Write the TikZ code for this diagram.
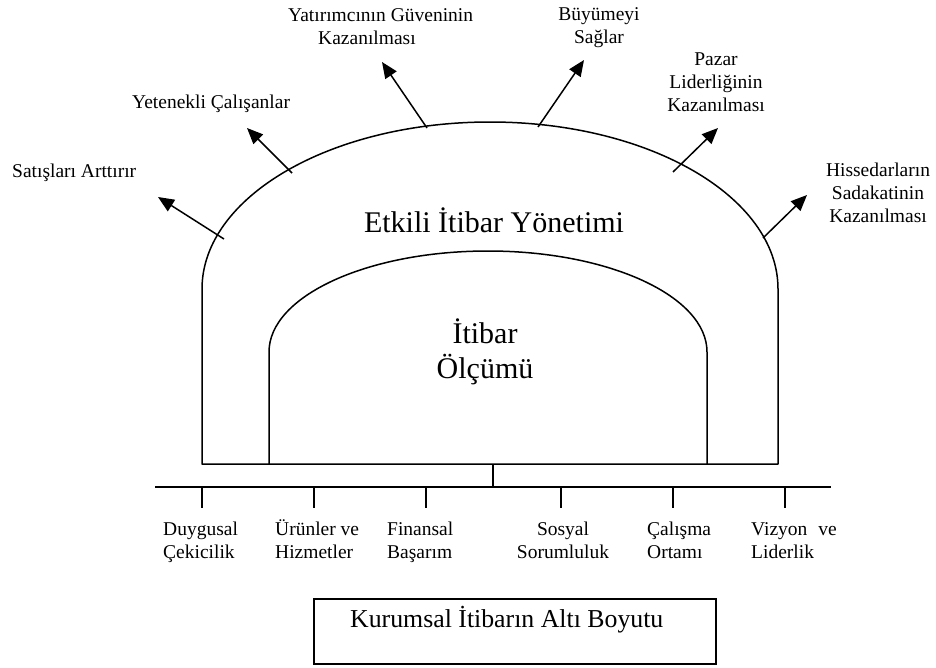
\documentclass[tikz,border=0pt]{standalone}
\usepackage{fontspec}
\setmainfont{Liberation Serif}
\usetikzlibrary{arrows.meta}
\newcommand{\cstk}[1]{\vtop{\halign{\hfil##\hfil\cr#1\crcr}}}
\newcommand{\lstk}[1]{\vtop{\halign{##\hfil\cr#1\crcr}}}
\begin{document}
\begin{tikzpicture}[x=1pt,y=-1pt,
  shape line/.style={line width=1.5pt, line join=round},
  outarrow/.style={line width=1.5pt, -{Triangle[length=16pt,width=13.5pt]}},
  lbl/.style={inner sep=0pt, font=\fontsize{19.5}{23}\selectfont},
  bigl/.style={inner sep=0pt, font=\fontsize{30}{35}\selectfont},
  boxl/.style={inner sep=0pt, font=\fontsize{25.8}{30}\selectfont}]
\useasboundingbox (0,0) rectangle (936,667);
\fill[white] (0,0) rectangle (936,667);

% arches
\draw[shape line] (202,464) -- (202,289) arc[start angle=180, end angle=0, x radius=288pt, y radius=167pt] -- (778,464) -- cycle;
\draw[shape line] (269,464) -- (269,352) arc[start angle=180, end angle=0, x radius=219pt, y radius=101pt] -- (707,464);

% texts in arches
\node[bigl, anchor=base] (etk) at (494,232) {Etkili İtibar Yönetimi};
\node[bigl, anchor=base] (itb) at (485,343) {\cstk{İtibar\cr Ölçümü}};

% arrow coordinates
\coordinate (tsat) at (224,239); \coordinate (hsat) at (158,197);
\coordinate (tyet) at (292,173); \coordinate (hyet) at (247,128);
\coordinate (tyat) at (427,128); \coordinate (hyat) at (382,62);
\coordinate (tbuy) at (538,127); \coordinate (hbuy) at (584,60);
\coordinate (tpaz) at (673,172); \coordinate (hpaz) at (718,128);
\coordinate (this) at (763,238); \coordinate (hhis) at (807,195);
\draw[outarrow] (tsat) -- (hsat);
\draw[outarrow] (tyet) -- (hyet);
\draw[outarrow] (tyat) -- (hyat);
\draw[outarrow] (tbuy) -- (hbuy);
\draw[outarrow] (tpaz) -- (hpaz);
\draw[outarrow] (this) -- (hhis);

% top labels
\node[lbl, anchor=base west] (sat) at (12,177) {Satışları Arttırır};
\node[lbl, anchor=base west] (yet) at (132,108) {Yetenekli Çalışanlar};
\node[lbl, anchor=base west] (yat) at (288,21) {\lstk{Yatırımcının Güveninin\cr\hspace*{30pt}Kazanılması}};
\node[lbl, anchor=base] (buy) at (599,20) {\cstk{Büyümeyi\cr Sağlar}};
\node[lbl, anchor=base] (paz) at (716,65) {\cstk{Pazar\cr Liderliğinin\cr Kazanılması}};
\node[lbl, anchor=base] (his) at (878,176) {\cstk{Hissedarların\cr Sadakatinin\cr Kazanılması}};

% base line and ticks
\coordinate (archbot) at (493,464);
\coordinate (bl) at (155,487);
\coordinate (br) at (831,487);
\coordinate (bm) at (493,487);
\draw[shape line] (bl) -- (br);
\draw[shape line] (archbot) -- (bm);
\foreach \x/\n in {202/a,314/b,426/c,561/d,673/e,785/f}{
  \coordinate (t\n) at (\x,487);
  \coordinate (u\n) at (\x,508);
  \draw[shape line] (t\n) -- (u\n);
}

% bottom labels
\node[lbl, anchor=base west] (duy) at (163,535) {\lstk{Duygusal\cr Çekicilik}};
\node[lbl, anchor=base west] (urn) at (275,535) {\lstk{Ürünler ve\cr Hizmetler}};
\node[lbl, anchor=base west] (fin) at (387,535) {\lstk{Finansal\cr Başarım}};
\node[lbl, anchor=base] (sos) at (563,535) {\cstk{Sosyal\cr Sorumluluk}};
\node[lbl, anchor=base west] (cal) at (647,535) {\lstk{Çalışma\cr Ortamı}};
\node[lbl, anchor=base west] (viz) at (751,535) {\lstk{Vizyon\hspace{6pt} ve\cr Liderlik}};

% box
\node[draw, line width=1.5pt, minimum width=402pt, minimum height=65pt, inner sep=0pt] (box) at (515,631.5) {};
\node[boxl, anchor=base west] (boxtext) at (350,627) {Kurumsal İtibarın Altı Boyutu};
\end{tikzpicture}
\end{document}
